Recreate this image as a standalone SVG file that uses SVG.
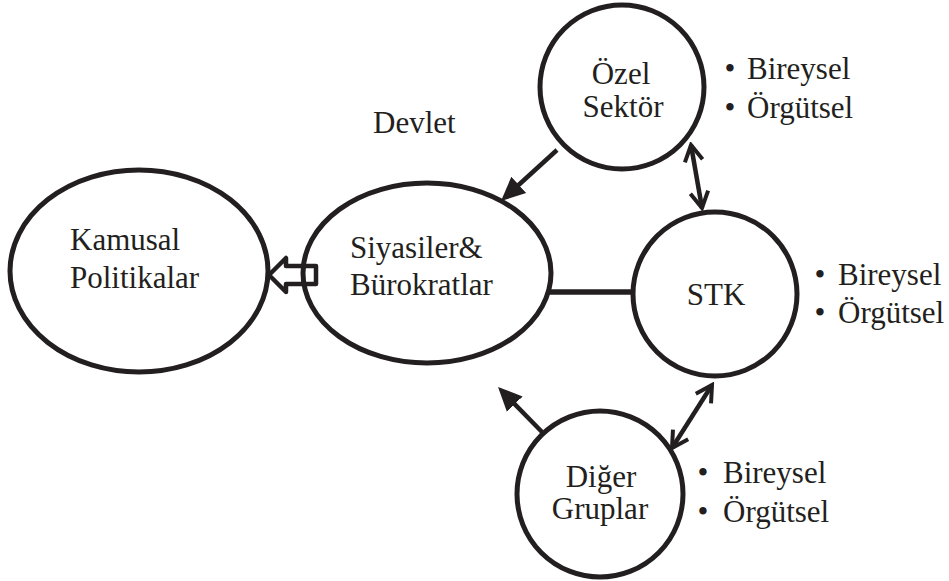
<svg xmlns="http://www.w3.org/2000/svg" width="949" height="581" viewBox="0 0 949 581">
<style>
.n{fill:none;stroke:#231f20;stroke-width:5}
.t{font-family:"Liberation Serif","Times New Roman",serif;font-size:31px;fill:#231f20}
.m{text-anchor:middle}
.c{fill:none;stroke:#231f20;stroke-width:4.5}
</style>
<defs>
<marker id="fill" viewBox="0 0 24 24" markerWidth="24" markerHeight="24" refX="14" refY="12" orient="auto-start-reverse" markerUnits="userSpaceOnUse">
<path d="M0,1 L24,12 L0,23 z" fill="#231f20"/>
</marker>
<marker id="open" viewBox="-3 -3 22 24" markerWidth="22" markerHeight="24" refX="16" refY="9" orient="auto-start-reverse" markerUnits="userSpaceOnUse">
<path d="M0,0 L16,9 L0,18" fill="none" stroke="#231f20" stroke-width="4"/>
</marker>
</defs>
<rect width="949" height="581" fill="#fff"/>
<g id="connectors">
<polygon points="269,275 286,258 286,266 316,266 316,284 286,284 286,292" fill="#fff" stroke="#231f20" stroke-width="4.5" stroke-linejoin="round"/>
<line x1="548" y1="292" x2="633" y2="292" stroke="#231f20" stroke-width="5.5"/>
<line class="c" x1="557" y1="150" x2="508.4" y2="194.3" marker-end="url(#fill)"/>
<line class="c" x1="543" y1="433" x2="505" y2="394.1" marker-end="url(#fill)"/>
<line class="c" x1="691" y1="145" x2="702" y2="208" marker-start="url(#open)" marker-end="url(#open)"/>
<line class="c" x1="712" y1="385" x2="672" y2="448" marker-start="url(#open)" marker-end="url(#open)"/>
</g>
<g id="kamusal">
<ellipse class="n" cx="139" cy="271" rx="129" ry="101"/>
<text class="t" x="70" y="250">Kamusal</text>
<text class="t" x="70" y="288">Politikalar</text>
</g>
<g id="devlet">
<text class="t" x="373" y="133">Devlet</text>
</g>
<g id="siyasiler">
<ellipse class="n" cx="427" cy="273" rx="124" ry="90"/>
<text class="t" x="350" y="258">Siyasiler&amp;</text>
<text class="t" x="350" y="295">Bürokratlar</text>
</g>
<g id="ozel">
<circle class="n" cx="622" cy="87" r="82"/>
<text class="t m" x="621" y="84">Özel</text>
<text class="t m" x="623" y="117">Sektör</text>
<text class="t m" x="730" y="79">•</text>
<text class="t" x="747" y="79">Bireysel</text>
<text class="t m" x="730" y="118">•</text>
<text class="t" x="747" y="118">Örgütsel</text>
</g>
<g id="stk">
<circle class="n" cx="715" cy="294" r="82"/>
<text class="t m" x="716" y="305">STK</text>
<text class="t m" x="820" y="285">•</text>
<text class="t" x="838" y="285">Bireysel</text>
<text class="t m" x="820" y="323">•</text>
<text class="t" x="838" y="323">Örgütsel</text>
</g>
<g id="diger">
<circle class="n" cx="600" cy="494" r="83"/>
<text class="t m" x="601" y="487">Diğer</text>
<text class="t m" x="600" y="519">Gruplar</text>
<text class="t m" x="703" y="483">•</text>
<text class="t" x="723" y="483">Bireysel</text>
<text class="t m" x="703" y="522">•</text>
<text class="t" x="723" y="522">Örgütsel</text>
</g>
</svg>
